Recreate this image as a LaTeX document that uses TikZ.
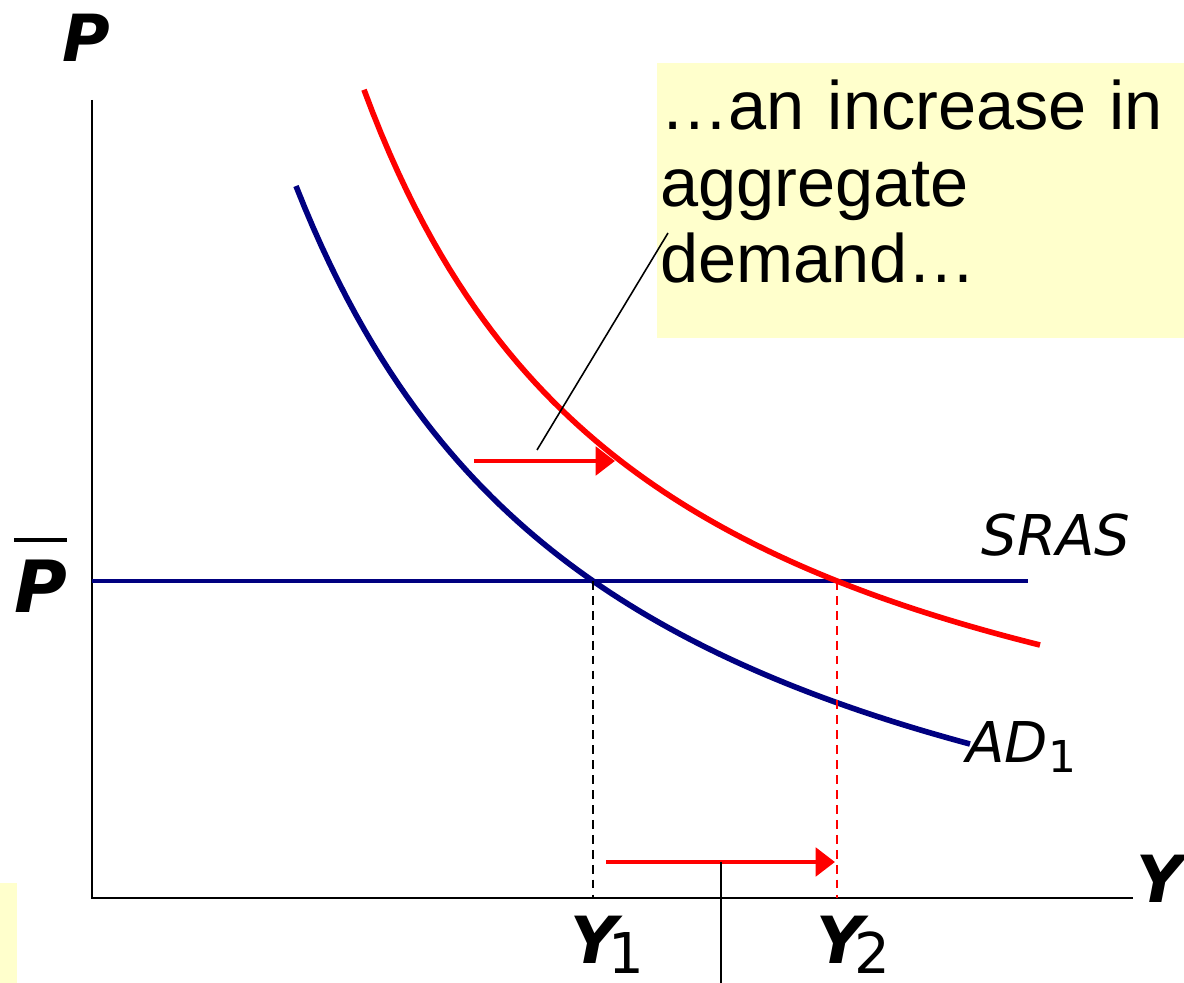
\documentclass[tikz,border=0pt]{standalone}
\usepackage{fontspec}
\setmainfont{DejaVu Sans}
\newfontfamily\notefont{Liberation Sans}
\usetikzlibrary{arrows.meta,positioning}
\definecolor{adnavy}{RGB}{0,0,128}
\definecolor{adred}{RGB}{255,0,0}
\definecolor{noteyellow}{RGB}{255,255,204}

\begin{document}
\begin{tikzpicture}[
  x=0.02cm, y=-0.02cm,
  axis/.style={line width=1.7pt},
  curve/.style={line width=3.2pt},
  guide/.style={line width=1.1pt, dash pattern=on 5pt off 3.5pt},
  shiftarr/.style={adred, line width=2.8pt, -{Triangle[length=11pt,width=16pt]}},
  pointer/.style={line width=0.9pt},
  axlbl/.style={inner sep=0pt, font=\fontsize{37}{40}\selectfont\bfseries\itshape},
  curvelbl/.style={inner sep=0pt, font=\fontsize{32}{35}\selectfont\itshape},
  notetext/.style={inner sep=0pt, text width=10.4cm, align=left, font=\notefont\fontsize{39}{43.5}\selectfont}
]
\useasboundingbox (0,0) rectangle (1184,983);

% yellow note boxes
\fill[noteyellow] (0,883) rectangle (17,983);
\node[fill=noteyellow, anchor=north west, inner sep=0pt,
  minimum width=10.54cm, minimum height=5.5cm] (note) at (657,63) {};
\node[notetext, anchor=base west] (notetxt) at (660,130) {\dots an increase in\\aggregate\\demand\dots};

% axes
\coordinate (O) at (92,898);
\coordinate (ytop) at (92,100);
\coordinate (xend) at (1133,898);
\draw[axis] (ytop) -- (O) -- (xend);
\node[axlbl, anchor=base west] (plbl) at (62,62) {P};
\node[axlbl, anchor=base west] (ylbl) at (1136,902) {Y};
\node[axlbl, font=\fontsize{41}{44}\selectfont\bfseries\itshape, anchor=base west] (pbar) at (14,612) {P};
\draw[line width=2.2pt] ([yshift=11pt]pbar.north west) -- ([yshift=11pt]pbar.north east);

% SRAS
\coordinate (srasL) at (92,581);
\coordinate (srasR) at (1028,581);
\draw[curve, adnavy, line width=2.8pt] (srasL) -- (srasR);
\node[curvelbl, anchor=base west] (sraslbl) at (981,555) {SRAS};

% aggregate demand curves
\draw[curve, adnavy] plot[domain=296:970, samples=80] (\x, {1012.8-2684.5/((\x+28.7)/100)});
\draw[curve, adred] plot[domain=364:1040, samples=80] (\x, {887-2348.76/((\x-69.4)/100)});
\node[curvelbl, anchor=base west] (adlbl) at (966,762) {AD\raisebox{-6pt}{\fontsize{25}{28}\selectfont\upshape 1}};

% equilibria
\coordinate (E1) at (593,581);
\coordinate (E2) at (837,581);
\draw[guide] (E1) -- (E1 |- O);
\draw[guide, adred] (E2) -- (E2 |- O);
\node[axlbl, anchor=base west] (y1lbl) at (570,963) {Y\kern-5pt\raisebox{-6pt}{\fontsize{32}{35}\selectfont\mdseries\upshape 1}};
\node[axlbl, anchor=base west] (y2lbl) at (816,963) {Y\kern-5pt\raisebox{-6pt}{\fontsize{32}{35}\selectfont\mdseries\upshape 2}};

% shift arrows
\coordinate (topA) at (474,461);
\coordinate (topB) at (615,461);
\draw[shiftarr] (topA) -- (topB);
\coordinate (botA) at (606,862);
\coordinate (botB) at (835,862);
\draw[shiftarr] (botA) -- (botB);

% pointers
\coordinate (ptrA) at (537,450);
\coordinate (ptrB) at (668,233);
\draw[pointer] (ptrA) -- (ptrB);
\coordinate (ptrC) at (721,862);
\coordinate (ptrD) at (721,983);
\draw[pointer, line width=1.3pt] (ptrC) -- (ptrD);
\end{tikzpicture}
\end{document}
